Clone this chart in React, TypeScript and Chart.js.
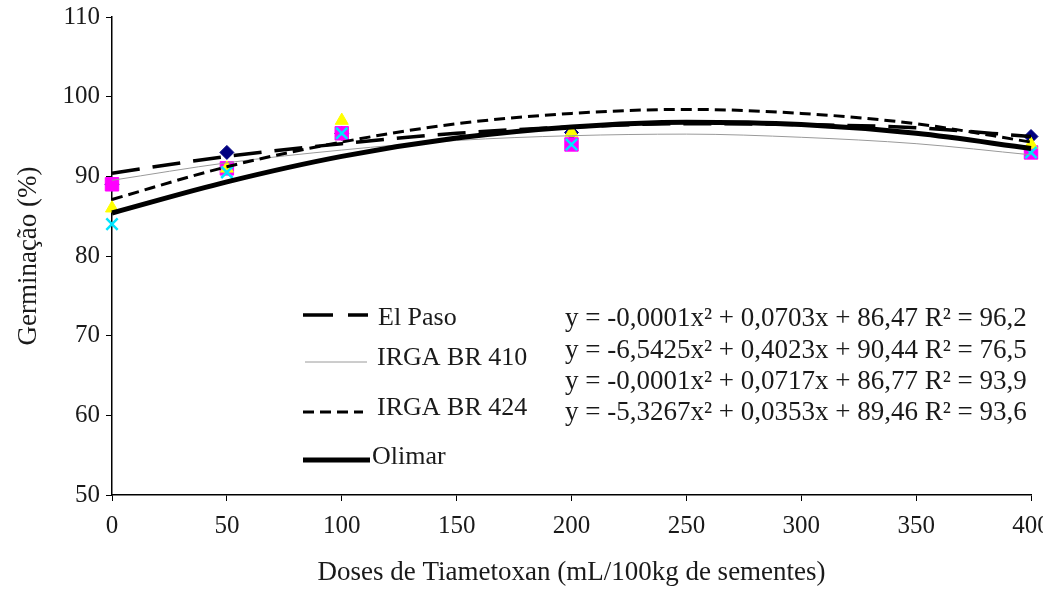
import React, { useEffect, useRef } from "react";
import { Chart, registerables } from "chart.js";

Chart.register(...registerables);

// Observed germination (%) by dose
const doses = [0, 50, 100, 200, 400];
const elPasoObs = [89, 93, 95.4, 95.5, 95];
const irga410Obs = [89, 91, 95.4, 94, 93];
const irga424Obs = [86, 91, 97, 95.5, 94];
const olimarObs = [84, 90.5, 95.4, 94, 93];

// Fitted trend curves
const curveX = [0, 50, 100, 150, 200, 250, 300, 350, 400];
const elPasoFit = [90.4, 92.5, 94.1, 95.4, 96.2, 96.6, 96.5, 96.1, 95.0];
const irga410Fit = [89.5, 91.7, 93.3, 94.5, 95.1, 95.3, 94.9, 94.1, 92.7];
const irga424Fit = [87.1, 91.2, 94.3, 96.6, 97.9, 98.4, 97.9, 96.6, 94.3];
const olimarFit = [85.4, 89.3, 92.5, 94.8, 96.2, 96.8, 96.5, 95.4, 93.5];

const seriesNames = ["El Paso", "IRGA BR 410", "IRGA BR 424", "Olimar"];
const equations = [
  "y = -0,0001x\u00B2 + 0,0703x + 86,47 R\u00B2 = 96,2",
  "y = -6,5425x\u00B2 + 0,4023x + 90,44 R\u00B2 = 76,5",
  "y = -0,0001x\u00B2 + 0,0717x + 86,77 R\u00B2 = 93,9",
  "y = -5,3267x\u00B2 + 0,0353x + 89,46 R\u00B2 = 93,6",
];

const xTitle = "Doses de Tiametoxan (mL/100kg de sementes)";
const yTitle = "Germinação (%)";

const FONT = "'Liberation Serif', 'Times New Roman', serif";
const TEXT = "#1a1a1a";

const pts = (xs: number[], ys: number[]) => xs.map((x, i) => ({ x, y: ys[i] }));

const lineStyles = [
  { color: "#000000", width: 3.5, dash: [28, 13] },
  { color: "#9a9a9a", width: 1, dash: [] as number[] },
  { color: "#000000", width: 3, dash: [11, 6] },
  { color: "#000000", width: 5, dash: [] as number[] },
];

const legendPlugin = {
  id: "customLegend",
  afterDraw(chart: any) {
    const ctx = chart.ctx;
    ctx.save();
    ctx.font = `26px ${FONT}`;
    ctx.fillStyle = TEXT;
    ctx.textBaseline = "middle";
    ctx.textAlign = "left";
    const rows = [
      { ly: 315, ty: 318, x0: 303, x1: 368, tx: 378 },
      { ly: 362, ty: 358, x0: 305, x1: 367, tx: 377 },
      { ly: 412, ty: 408, x0: 303, x1: 363, tx: 377 },
      { ly: 460, ty: 457, x0: 303, x1: 370, tx: 372 },
    ];
    rows.forEach((r, i) => {
      const s = lineStyles[i];
      ctx.beginPath();
      ctx.strokeStyle = s.color;
      ctx.lineWidth = s.width;
      ctx.setLineDash(i === 0 ? [30, 15] : i === 2 ? [11, 6] : []);
      ctx.moveTo(r.x0, r.ly);
      ctx.lineTo(r.x1, r.ly);
      ctx.stroke();
      ctx.setLineDash([]);
      ctx.fillText(seriesNames[i], r.tx, r.ty);
    });
    ctx.font = `27px ${FONT}`;
    const eqY = [319, 351, 382, 413];
    equations.forEach((e, i) => ctx.fillText(e, 565, eqY[i]));
    ctx.restore();
  },
};

export default function App() {
  const ref = useRef<HTMLCanvasElement | null>(null);
  useEffect(() => {
    if (!ref.current) return;
    const fits = [elPasoFit, irga410Fit, irga424Fit, olimarFit];
    const obs = [elPasoObs, irga410Obs, irga424Obs, olimarObs];
    const markers = [
      { style: "rectRot", color: "#000080", border: "#000080", r: 7 },
      { style: "rect", color: "#ff00ff", border: "#ff00ff", r: 9.5 },
      { style: "triangle", color: "#ffff00", border: "#ffff00", r: 7.5 },
      { style: "crossRot", color: "#00ffff", border: "#00e5ff", r: 8 },
    ];
    const lineSets = fits.map((f, i) => ({
      label: seriesNames[i] + " fit",
      data: pts(curveX, f),
      showLine: true,
      borderColor: lineStyles[i].color,
      borderWidth: lineStyles[i].width,
      borderDash: lineStyles[i].dash,
      pointRadius: 0,
      tension: 0.4,
      cubicInterpolationMode: "monotone",
      fill: false,
      clip: false,
      order: i === 1 ? 2 : 1,
    }));
    const pointSets = obs.map((o, i) => ({
      label: seriesNames[i],
      data: pts(doses, o),
      showLine: false,
      pointStyle: markers[i].style,
      pointRadius: markers[i].r,
      backgroundColor: markers[i].color,
      borderColor: markers[i].border,
      borderWidth: i === 3 ? 2.5 : 1,
      clip: false,
      order: 3 + (3 - i),
    }));
    const chart = new Chart(ref.current, {
      type: "scatter",
      data: { datasets: [...pointSets, ...lineSets] as any },
      options: {
        animation: false,
        responsive: false,
        maintainAspectRatio: false,
        layout: { padding: { left: 0, right: 12, top: 17, bottom: 0 } },
        plugins: { legend: { display: false }, tooltip: { enabled: false } },
        scales: {
          x: {
            type: "linear",
            min: 0,
            max: 400,
            ticks: { stepSize: 50, color: TEXT, font: { family: FONT, size: 25 }, padding: 10 },
            grid: { display: true, drawOnChartArea: false, drawTicks: true, tickLength: 6, color: "#000" },
            border: { display: true, color: "#000", width: 1.5 },
            title: { display: true, text: xTitle, color: TEXT, font: { family: FONT, size: 27 }, padding: { top: 0, bottom: 0 } },
            afterFit(scale: any) {
              scale.height = 94;
              scale.paddingLeft = 0;
              scale.paddingRight = 0;
            },
          } as any,
          y: {
            type: "linear",
            min: 50,
            max: 110,
            ticks: { stepSize: 10, color: TEXT, font: { family: FONT, size: 25 }, padding: 6 },
            grid: { display: true, drawOnChartArea: false, drawTicks: true, tickLength: 6, color: "#000" },
            border: { display: true, color: "#000", width: 1.5 },
            title: { display: true, text: yTitle, color: TEXT, font: { family: FONT, size: 27 }, padding: { top: 13, bottom: 0 } },
            afterFit(scale: any) {
              scale.width = 112;
              scale.paddingTop = 0;
              scale.paddingBottom = 0;
            },
          } as any,
        },
      },
      plugins: [legendPlugin],
    });
    return () => chart.destroy();
  }, []);
  return (
    <div style={{ position: "absolute", left: 0, top: 0, width: 1043, height: 589, background: "#fff" }}>
      <canvas ref={ref} width={1043} height={589} style={{ width: 1043, height: 589 }} />
    </div>
  );
}
